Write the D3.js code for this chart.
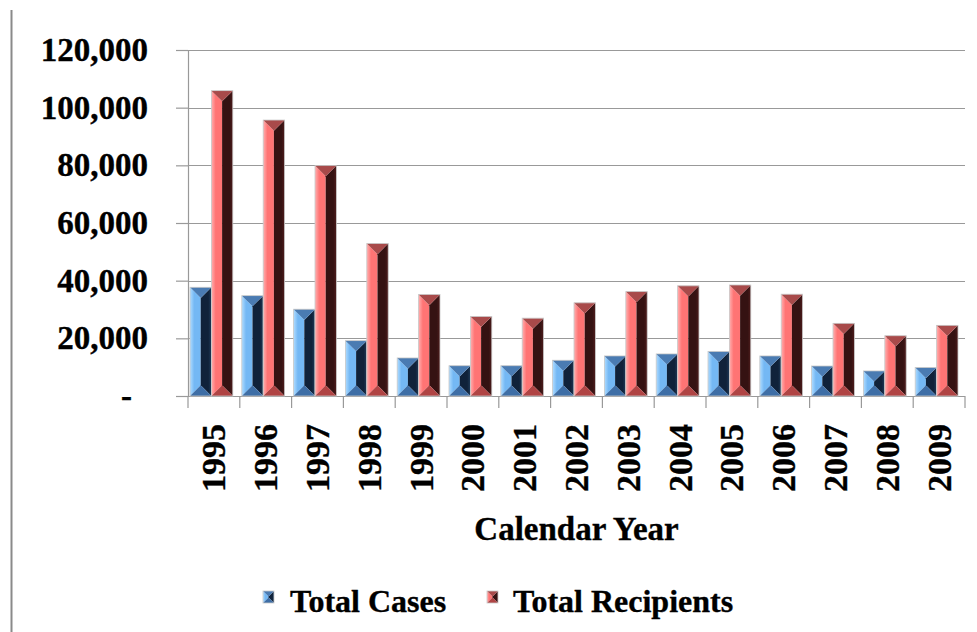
<!DOCTYPE html>
<html>
<head>
<meta charset="utf-8">
<script src="https://cdn.jsdelivr.net/npm/d3@7"></script>
<style>
  html, body { margin: 0; padding: 0; background: #fff; }
  svg { display: block; }
  text { font-family: "Liberation Serif", "Times New Roman", serif; font-weight: bold; fill: #000; stroke: #000; stroke-width: 0.35px; }
</style>
</head>
<body>
<script>
const years = ["1995","1996","1997","1998","1999","2000","2001","2002","2003","2004","2005","2006","2007","2008","2009"];
const totalCases = [37700, 34800, 30100, 19200, 13200, 10500, 10500, 12400, 13900, 14600, 15400, 13900, 10400, 8700, 9900];
const totalRecipients = [105900, 95700, 79900, 52900, 35200, 27600, 27000, 32300, 36200, 38200, 38500, 35300, 25200, 20900, 24500];
const yTicks = [0, 20000, 40000, 60000, 80000, 100000, 120000];
const seriesNames = ["Total Cases", "Total Recipients"];
const xTitle = "Calendar Year";

const W = 977, H = 632;
const svg = d3.select("body").append("svg").attr("width", W).attr("height", H);

// gradients
const defs = svg.append("defs");
const palettes = [
  { left: ["#b0dcff", "#74b8f4"], right: ["#10223a", "#1f3a58"], top: "#4a7bb2", bottom: "#3e6ea6" },
  { left: ["#ffb0b0", "#ff7474"], right: ["#351212", "#4e1c1c"], top: "#a84a4a", bottom: "#b04444" }
];
palettes.forEach((p, i) => {
  const gl = defs.append("linearGradient").attr("id", "gl" + i).attr("x1", 0).attr("x2", 1).attr("y1", 0).attr("y2", 0);
  gl.append("stop").attr("offset", "0%").attr("stop-color", p.left[0]);
  gl.append("stop").attr("offset", "40%").attr("stop-color", p.left[1]);
  gl.append("stop").attr("offset", "100%").attr("stop-color", p.left[1]);
  const gr = defs.append("linearGradient").attr("id", "gr" + i).attr("x1", 0).attr("x2", 1).attr("y1", 0).attr("y2", 0);
  gr.append("stop").attr("offset", "0%").attr("stop-color", p.right[0]);
  gr.append("stop").attr("offset", "70%").attr("stop-color", p.right[0]);
  gr.append("stop").attr("offset", "100%").attr("stop-color", p.right[1]);
});

// left border line
svg.append("line").attr("x1", 11.5).attr("x2", 11.5).attr("y1", 10).attr("y2", H)
  .attr("stroke", "#8a8a8a").attr("stroke-width", 2);

const plotL = 188, plotR = 965, plotT = 50, plotB = 396;

const x = d3.scaleBand().domain(years).range([plotL, plotR]).paddingInner(0).paddingOuter(0);
const x1 = d3.scaleBand().domain([0, 1]).range([2, x.bandwidth() - 7]).padding(0);
const y = d3.scaleLinear().domain([0, 120000]).range([plotB, plotT]);

// gridlines
svg.append("g").selectAll("line").data(yTicks.filter(d => d > 0)).join("line")
  .attr("x1", plotL).attr("x2", plotR)
  .attr("y1", d => Math.round(y(d)) + 0.5).attr("y2", d => Math.round(y(d)) + 0.5)
  .attr("stroke", "#999").attr("stroke-width", 1.2);

// y axis
const yAxis = d3.axisLeft(y).tickValues(yTicks).tickSize(12).tickPadding(28)
  .tickFormat(d => d === 0 ? "-" : d3.format(",")(d));
const gy = svg.append("g").attr("transform", `translate(${plotL},0)`).call(yAxis);
gy.select(".domain").attr("stroke", "#999").attr("stroke-width", 1.2);
gy.selectAll(".tick line").attr("stroke", "#999").attr("stroke-width", 1.2);
gy.selectAll(".tick text").style("font-size", "33px")
  .attr("dx", d => d === 0 ? -16 : 0);

// x axis baseline & boundary ticks
svg.append("line").attr("x1", plotL).attr("x2", plotR).attr("y1", plotB + 0.5).attr("y2", plotB + 0.5)
  .attr("stroke", "#999").attr("stroke-width", 1.2);
const bounds = years.map(d => x(d)).concat([x(years[years.length - 1]) + x.step()]);
svg.append("g").selectAll("line").data(bounds).join("line")
  .attr("x1", d => d).attr("x2", d => d).attr("y1", plotB).attr("y2", plotB + 12)
  .attr("stroke", "#999").attr("stroke-width", 1.2);

// x labels (rotated)
const xAxis = d3.axisBottom(x).tickSize(0).tickPadding(0);
const gx = svg.append("g").attr("transform", `translate(0,${plotB})`).call(xAxis);
gx.select(".domain").remove();
gx.selectAll(".tick text")
  .style("font-size", "34px")
  .attr("text-anchor", "end")
  .attr("transform", "translate(0,28) rotate(-90)")
  .attr("x", 0).attr("y", 0).attr("dy", "0.34em");

// x title
svg.append("text").attr("x", (plotL + plotR) / 2).attr("y", 540).attr("text-anchor", "middle")
  .style("font-size", "33px").text(xTitle);

// bevel bars
function drawBevel(g, x0, x1b, yTop, yBot, i) {
  const w = x1b - x0, h = yBot - yTop;
  const d = Math.min(w / 2, h / 2);
  const xc = x0 + w / 2;
  const p = palettes[i];
  const pts = a => a.map(q => q.join(",")).join(" ");
  g.append("polygon").attr("points", pts([[x0, yTop], [xc, yTop + d], [xc, yBot - d], [x0, yBot]]))
    .attr("fill", `url(#gl${i})`);
  g.append("polygon").attr("points", pts([[x1b, yTop], [xc, yTop + d], [xc, yBot - d], [x1b, yBot]]))
    .attr("fill", `url(#gr${i})`);
  g.append("polygon").attr("points", pts([[x0, yTop], [x1b, yTop], [xc, yTop + d]]))
    .attr("fill", p.top);
  g.append("polygon").attr("points", pts([[x0, yBot], [x1b, yBot], [xc, yBot - d]]))
    .attr("fill", p.bottom);
  g.append("rect").attr("x", x0).attr("y", yTop).attr("width", w).attr("height", h)
    .attr("fill", "none").attr("stroke", "#c8c8c8").attr("stroke-width", 0.8);
}

const barsG = svg.append("g");
[totalCases, totalRecipients].forEach((vals, i) => {
  vals.forEach((v, k) => {
    const xs = x(years[k]) + x1(i);
    drawBevel(barsG, xs, xs + x1.bandwidth(), y(v), y(0), i);
  });
});

// legend
const legend = svg.append("g");
const legendItems = [{ mx: 263, tx: 290 }, { mx: 487, tx: 513 }];
seriesNames.forEach((name, i) => {
  const m = legendItems[i];
  drawBevel(legend, m.mx, m.mx + 11, 591, 603, i);
  legend.append("text").attr("x", m.tx).attr("y", 612).style("font-size", "32px").text(name);
});
</script>
</body>
</html>
